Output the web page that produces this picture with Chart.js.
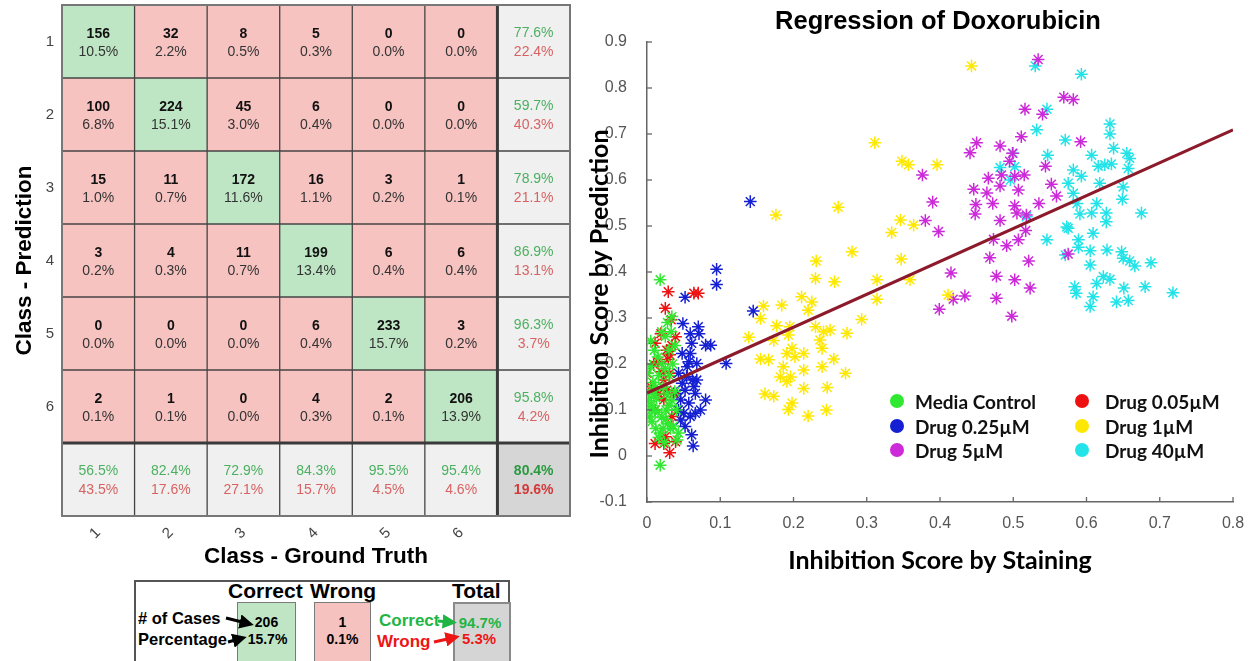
<!DOCTYPE html>
<html>
<head>
<meta charset="utf-8">
<script src="https://cdn.jsdelivr.net/npm/chart.js@4.4.1/dist/chart.umd.min.js"></script>
<style>
  html, body { margin: 0; padding: 0; background: #fff; width: 1255px; height: 661px; overflow: hidden;
    font-family: "Liberation Sans", Arial, sans-serif; }
  #cmWrap { position: absolute; left: 0; top: 0; width: 600px; height: 575px; }
  #scWrap { position: absolute; left: 575px; top: 0; width: 680px; height: 661px; }
  .lg-item { position: absolute; height: 24px; display: flex; align-items: center;
    font-family: Lato, "Open Sans", sans-serif; font-weight: 700; font-size: 19px; color: #111; white-space: nowrap; }
  .lg-dot { width: 14px; height: 14px; border-radius: 50%; flex: none; }
  #key { position: absolute; left: 134px; top: 580px; width: 376px; height: 100px; border: 2px solid #555; box-sizing: border-box; }
  .k { position: absolute; white-space: nowrap; line-height: 1; }
  .kh { font-weight: 700; font-size: 21px; color: #000; }
  .kl { font-weight: 700; font-size: 16.5px; color: #000; }
  .kbox { position: absolute; top: 602px; height: 80px; box-sizing: border-box; }
  .kv { position: absolute; font-weight: 700; font-size: 14px; text-align: center; line-height: 1; }
</style>
</head>
<body>
<div id="cmWrap"><canvas id="matrixChart"></canvas></div>
<div id="scWrap"><canvas id="scatterChart"></canvas><div id="scLegend"></div></div>

<!-- key explaining how to read a cell of the confusion matrix -->
<div id="key"></div>
<div class="kbox" style="left:237px;width:59px;background:#bfe5c5;border:1px solid #7a7a7a;"></div>
<div class="kbox" style="left:314px;width:57px;background:#f6c2bf;border:1px solid #7a7a7a;"></div>
<div class="kbox" style="left:453px;width:58px;background:#d5d5d5;border:2px solid #8a8a8a;"></div>
<div class="k kh" style="left:228px;top:580px;">Correct</div>
<div class="k kh" style="left:310px;top:580px;">Wrong</div>
<div class="k kh" style="left:452px;top:580px;">Total</div>
<div class="k kl" style="left:138px;top:610px;"># of Cases</div>
<div class="k kl" style="left:138px;top:631px;">Percentage</div>
<div class="kv" style="left:246px;width:41px;top:615px;">206</div>
<div class="kv" style="left:246px;width:43px;top:632px;">15.7%</div>
<div class="kv" style="left:314px;width:57px;top:615px;">1</div>
<div class="kv" style="left:314px;width:57px;top:632px;">0.1%</div>
<div class="k" style="left:379px;top:612px;font-weight:700;font-size:17px;color:#1fb544;">Correct</div>
<div class="k" style="left:377px;top:633px;font-weight:700;font-size:17px;color:#ee1515;">Wrong</div>
<div class="kv" style="left:456px;width:48px;top:615px;font-size:15px;color:#1fb544;">94.7%</div>
<div class="kv" style="left:458px;width:42px;top:631px;font-size:15px;color:#ee1515;">5.3%</div>
<svg style="position:absolute;left:0;top:0;width:1255px;height:661px;pointer-events:none;" viewBox="0 0 1255 661">
  <defs>
    <marker id="hk" markerWidth="4.5" markerHeight="4.5" refX="2" refY="2.25" orient="auto"><path d="M0,0 L4.5,2.25 L0,4.5 z" fill="#000"/></marker>
    <marker id="hg" markerWidth="4.5" markerHeight="4.5" refX="2" refY="2.25" orient="auto"><path d="M0,0 L4.5,2.25 L0,4.5 z" fill="#1fb544"/></marker>
    <marker id="hr" markerWidth="4.5" markerHeight="4.5" refX="2" refY="2.25" orient="auto"><path d="M0,0 L4.5,2.25 L0,4.5 z" fill="#ee1515"/></marker>
  </defs>
  <line x1="226" y1="618" x2="246" y2="623" stroke="#000" stroke-width="3.2" marker-end="url(#hk)"/>
  <line x1="228" y1="642" x2="239" y2="639" stroke="#000" stroke-width="3.2" marker-end="url(#hk)"/>
  <line x1="438" y1="621" x2="449" y2="622" stroke="#1fb544" stroke-width="3.2" marker-end="url(#hg)"/>
  <line x1="434" y1="642" x2="452" y2="638" stroke="#ee1515" stroke-width="3.2" marker-end="url(#hr)"/>
</svg>

<script>
// ---------- confusion matrix (rows: predicted class, columns: ground truth) ----------
const classLabels = ['1', '2', '3', '4', '5', '6'];
const confusionCounts = [
  [156,  32,   8,   5,   0,   0],
  [100, 224,  45,   6,   0,   0],
  [ 15,  11, 172,  16,   3,   1],
  [  3,   4,  11, 199,   6,   6],
  [  0,   0,   0,   6, 233,   3],
  [  2,   1,   0,   4,   2, 206]
];

// ---------- regression scatter: [staining score, predicted score] ----------
const mediaControl = [[0.018,0.383],[0.034,0.303],[0.018,-0.020],[0.041,0.035],[0.005,0.250],[0.010,0.230],[0.015,0.215],[0.020,0.200],[0.025,0.190],[0.030,0.175],[0.008,0.160],[0.012,0.150],[0.004,0.140],[0.002,0.120],[0.006,0.110],[0.010,0.100],[0.015,0.095],[0.020,0.085],[0.025,0.080],[0.028,0.070],[0.032,0.060],[0.036,0.065],[0.003,0.085],[0.007,0.075],[0.012,0.060],[0.018,0.050],[0.022,0.060],[0.026,0.100],[0.030,0.110],[0.034,0.120],[0.038,0.140],[0.035,0.200],[0.030,0.230],[0.025,0.260],[0.020,0.270],[0.028,0.290],[0.033,0.270],[0.038,0.240],[0.001,0.180],[0.005,0.195],[0.016,0.175],[0.022,0.150],[0.027,0.135],[0.013,0.125],[0.009,0.135],[0.040,0.100],[0.043,0.050],[0.016,0.040],[0.024,0.030],[0.006,0.100]];
const drug005 = [[0.029,0.357],[0.064,0.354],[0.070,0.354],[0.025,0.321],[0.033,0.296],[0.019,0.266],[0.039,0.259],[0.011,0.245],[0.000,0.180],[0.009,0.199],[0.027,0.230],[0.031,0.220],[0.029,0.210],[0.023,0.165],[0.011,0.100],[0.023,0.122],[0.034,0.086],[0.011,0.027],[0.023,0.027],[0.039,0.031],[0.031,0.007],[0.025,0.042],[0.027,0.143],[0.036,0.136],[0.016,0.136],[0.020,0.183],[0.031,0.180],[0.005,0.151],[0.015,0.205],[0.034,0.240]];
const drug025 = [[0.141,0.553],[0.095,0.406],[0.095,0.373],[0.052,0.345],[0.145,0.315],[0.108,0.201],[0.049,0.288],[0.070,0.281],[0.059,0.266],[0.071,0.266],[0.061,0.245],[0.080,0.241],[0.087,0.241],[0.059,0.223],[0.068,0.201],[0.043,0.180],[0.054,0.173],[0.048,0.158],[0.062,0.165],[0.052,0.143],[0.066,0.136],[0.046,0.122],[0.057,0.115],[0.080,0.122],[0.073,0.100],[0.050,0.093],[0.059,0.086],[0.052,0.064],[0.061,0.046],[0.063,0.022],[0.046,0.078],[0.041,0.136],[0.068,0.165],[0.057,0.205],[0.064,0.151],[0.043,0.100],[0.055,0.194],[0.066,0.093],[0.048,0.223]];
const drug1 = [[0.311,0.681],[0.348,0.641],[0.357,0.633],[0.396,0.633],[0.176,0.524],[0.261,0.541],[0.346,0.513],[0.364,0.502],[0.334,0.486],[0.280,0.444],[0.347,0.428],[0.231,0.424],[0.230,0.386],[0.256,0.379],[0.314,0.383],[0.359,0.383],[0.314,0.341],[0.211,0.346],[0.225,0.335],[0.220,0.317],[0.184,0.328],[0.159,0.326],[0.155,0.299],[0.293,0.297],[0.177,0.283],[0.195,0.281],[0.139,0.258],[0.173,0.251],[0.193,0.263],[0.230,0.281],[0.241,0.270],[0.250,0.274],[0.273,0.267],[0.236,0.252],[0.239,0.234],[0.198,0.234],[0.191,0.223],[0.202,0.216],[0.214,0.223],[0.155,0.211],[0.166,0.209],[0.255,0.211],[0.186,0.194],[0.239,0.194],[0.214,0.187],[0.182,0.172],[0.196,0.172],[0.191,0.162],[0.271,0.180],[0.214,0.147],[0.246,0.149],[0.161,0.135],[0.173,0.130],[0.198,0.115],[0.193,0.101],[0.220,0.087],[0.245,0.100],[0.443,0.848],[0.411,0.350]];
const drug5 = [[0.534,0.862],[0.569,0.780],[0.582,0.775],[0.516,0.754],[0.540,0.743],[0.511,0.694],[0.450,0.681],[0.441,0.659],[0.482,0.674],[0.499,0.658],[0.592,0.683],[0.495,0.641],[0.544,0.630],[0.376,0.611],[0.484,0.611],[0.466,0.604],[0.502,0.608],[0.515,0.611],[0.482,0.587],[0.446,0.580],[0.464,0.572],[0.507,0.578],[0.552,0.591],[0.559,0.565],[0.390,0.552],[0.449,0.547],[0.472,0.549],[0.502,0.544],[0.535,0.549],[0.448,0.526],[0.505,0.528],[0.518,0.524],[0.380,0.512],[0.482,0.512],[0.398,0.488],[0.517,0.490],[0.473,0.471],[0.507,0.470],[0.491,0.457],[0.468,0.431],[0.521,0.424],[0.575,0.439],[0.415,0.398],[0.477,0.391],[0.502,0.383],[0.523,0.365],[0.434,0.348],[0.418,0.341],[0.477,0.343],[0.399,0.319],[0.498,0.304]];
const drug40 = [[0.530,0.848],[0.593,0.830],[0.546,0.754],[0.632,0.722],[0.632,0.700],[0.532,0.709],[0.571,0.687],[0.637,0.669],[0.607,0.654],[0.655,0.658],[0.659,0.647],[0.547,0.654],[0.500,0.658],[0.616,0.630],[0.625,0.633],[0.634,0.635],[0.482,0.627],[0.582,0.622],[0.657,0.625],[0.593,0.608],[0.496,0.600],[0.575,0.593],[0.618,0.593],[0.650,0.585],[0.582,0.571],[0.649,0.558],[0.587,0.549],[0.614,0.549],[0.591,0.526],[0.607,0.528],[0.627,0.528],[0.675,0.528],[0.518,0.520],[0.627,0.509],[0.573,0.498],[0.575,0.495],[0.609,0.484],[0.546,0.470],[0.589,0.470],[0.589,0.454],[0.605,0.446],[0.628,0.448],[0.571,0.437],[0.648,0.444],[0.650,0.430],[0.659,0.424],[0.666,0.413],[0.605,0.415],[0.688,0.420],[0.623,0.390],[0.632,0.384],[0.614,0.375],[0.584,0.368],[0.586,0.354],[0.651,0.365],[0.680,0.368],[0.718,0.355],[0.609,0.346],[0.605,0.325],[0.641,0.335],[0.657,0.338],[0.502,0.629]];

// fitted regression line end points
const fitX = [0, 0.8];
const fitY = [0.137, 0.709];

const groupLabels = ['Media Control', 'Drug 0.05µM', 'Drug 0.25µM', 'Drug 1µM', 'Drug 5µM', 'Drug 40µM'];
const groupColors = ['#2fe82f', '#ee1111', '#1420d2', '#ffe800', '#cc2ad9', '#22e3e8'];
const groupPoints = [mediaControl, drug005, drug025, drug1, drug5, drug40];

const xTickStep = 0.1, yTickStep = 0.1;

// ====================== confusion matrix chart ======================
const nCls = classLabels.length;
const total = confusionCounts.flat().reduce((a, b) => a + b, 0);
const rowSums = confusionCounts.map(r => r.reduce((a, b) => a + b, 0));
const colSums = classLabels.map((_, c) => confusionCounts.reduce((a, r) => a + r[c], 0));
const diagSum = confusionCounts.reduce((a, r, i) => a + r[i], 0);
const pct = v => (v * 100).toFixed(1) + '%';

const CELL_OK = '#bee5c4', CELL_BAD = '#f6c3c0', CELL_STAT = '#f0f0f0', CELL_ALL = '#d6d6d6';
function cellColor(r, c) {
  if (r === nCls && c === nCls) return CELL_ALL;
  if (r === nCls || c === nCls) return CELL_STAT;
  return r === c ? CELL_OK : CELL_BAD;
}

const matrixColumns = [...classLabels, ''];
const matrixRows = [];
for (let r = 0; r <= nCls; r++) {
  matrixRows.push({
    label: 'row ' + r,
    data: matrixColumns.map(() => [r, r + 1]),
    backgroundColor: matrixColumns.map((_, c) => cellColor(r, c)),
    borderWidth: 0,
    grouped: false,
    barPercentage: 1,
    categoryPercentage: 1
  });
}

const matrixOverlay = {
  id: 'matrixOverlay',
  afterDatasetsDraw(chart) {
    const { ctx, scales: { x, y } } = chart;
    const step = x.getPixelForValue(1) - x.getPixelForValue(0);
    const colEdge = k => x.getPixelForValue(0) - step / 2 + k * step;
    const rowEdge = k => y.getPixelForValue(k);
    ctx.save();
    ctx.textAlign = 'center';
    ctx.textBaseline = 'middle';
    const fam = '"Liberation Sans", Arial, sans-serif';
    for (let r = 0; r <= nCls; r++) {
      for (let c = 0; c <= nCls; c++) {
        const cx = x.getPixelForValue(c);
        const cy = y.getPixelForValue(r + 0.5);
        if (r < nCls && c < nCls) {
          const v = confusionCounts[r][c];
          ctx.fillStyle = '#111';
          ctx.font = 'bold 14px ' + fam;
          ctx.fillText(String(v), cx, cy - 7.5);
          ctx.fillStyle = '#333';
          ctx.font = '14px ' + fam;
          ctx.fillText(pct(v / total), cx, cy + 10.5);
        } else {
          let ok;
          if (r === nCls && c === nCls) ok = diagSum / total;
          else if (c === nCls) ok = confusionCounts[r][r] / rowSums[r];
          else ok = confusionCounts[c][c] / colSums[c];
          const strong = r === nCls && c === nCls;
          ctx.font = (strong ? 'bold ' : '') + '14px ' + fam;
          ctx.fillStyle = strong ? '#2a9a40' : '#4cb060';
          ctx.fillText(pct(ok), cx, cy - 8.5);
          ctx.fillStyle = strong ? '#d43a3a' : '#d86262';
          ctx.fillText(pct(1 - ok), cx, cy + 10.5);
        }
      }
    }
    // cell borders
    const left = colEdge(0), right = colEdge(nCls + 1), top = rowEdge(0), bottom = rowEdge(nCls + 1);
    const hline = (yy) => { ctx.beginPath(); ctx.moveTo(left, yy); ctx.lineTo(right, yy); ctx.stroke(); };
    const vline = (xx) => { ctx.beginPath(); ctx.moveTo(xx, top); ctx.lineTo(xx, bottom); ctx.stroke(); };
    ctx.strokeStyle = '#444';
    ctx.lineWidth = 1.3;
    for (let k = 1; k < nCls; k++) {
      hline(rowEdge(k));
      vline(colEdge(k));
    }
    ctx.strokeStyle = '#3a3a3a';
    ctx.lineWidth = 3;
    hline(rowEdge(nCls));
    vline(colEdge(nCls));
    ctx.strokeStyle = '#777';
    ctx.lineWidth = 2;
    ctx.strokeRect(left, top, right - left, bottom - top);
    ctx.restore();
  }
};

new Chart(document.getElementById('matrixChart'), {
  type: 'bar',
  data: { labels: matrixColumns, datasets: matrixRows },
  plugins: [matrixOverlay],
  options: {
    responsive: true,
    maintainAspectRatio: false,
    animation: false,
    events: [],
    layout: { padding: { top: 5, right: 30, left: 0, bottom: 0 } },
    plugins: { legend: { display: false }, tooltip: { enabled: false } },
    scales: {
      x: {
        type: 'category',
        offset: true,
        grid: { display: false, drawTicks: false },
        border: { display: false },
        ticks: { minRotation: 45, maxRotation: 45, padding: 8, color: '#444',
          font: { family: '"Liberation Sans", Arial, sans-serif', size: 15 } },
        title: { display: true, text: 'Class - Ground Truth', color: '#000',
          font: { family: '"Liberation Sans", Arial, sans-serif', size: 22.5, weight: 'bold' },
          padding: { top: 0, bottom: 4.5 } },
        afterFit(s) { s.height = 59; s.paddingLeft = 0; s.paddingRight = 0; }
      },
      y: {
        type: 'linear',
        min: 0,
        max: nCls + 1,
        reverse: true,
        afterBuildTicks(s) { s.ticks = classLabels.map((_, i) => ({ value: i + 0.5 })); },
        grid: { display: false, drawTicks: false },
        border: { display: false },
        ticks: { padding: 8, color: '#444', autoSkip: false,
          font: { family: '"Liberation Sans", Arial, sans-serif', size: 15 },
          callback: v => classLabels[Math.floor(v)] ?? '' },
        title: { display: true, text: 'Class - Prediction', color: '#000',
          font: { family: '"Liberation Sans", Arial, sans-serif', size: 22.5, weight: 'bold' },
          padding: { top: 11, bottom: 0 } },
        afterFit(s) { s.width = 62; s.paddingTop = 0; s.paddingBottom = 0; }
      }
    }
  }
});

// ====================== regression scatter chart ======================
const chartTitle = 'Regression of Doxorubicin';
const yAxisTitle = 'Inhibition Score by Prediction';

const scatterDecor = {
  id: 'scatterDecor',
  afterDraw(chart) {
    const { ctx, chartArea: a, scales: { x, y } } = chart;
    ctx.save();
    // tick marks pointing into the plot
    ctx.strokeStyle = '#666';
    ctx.lineWidth = 1.3;
    x.ticks.forEach(t => {
      const px = x.getPixelForValue(t.value);
      ctx.beginPath(); ctx.moveTo(px, a.bottom); ctx.lineTo(px, a.bottom - 5); ctx.stroke();
    });
    y.ticks.forEach(t => {
      const py = y.getPixelForValue(t.value);
      ctx.beginPath(); ctx.moveTo(a.left, py); ctx.lineTo(a.left + 5, py); ctx.stroke();
    });
    ctx.fillStyle = '#000';
    ctx.textAlign = 'center';
    ctx.textBaseline = 'middle';
    // title centred over the plot area
    ctx.font = 'bold 25.5px "Liberation Sans", Arial, sans-serif';
    ctx.fillText(chartTitle, (a.left + a.right) / 2 - 2, 22);
    // vertical axis title, drawn a little below the axis centre
    ctx.translate(25, (a.top + a.bottom) / 2 + 22);
    ctx.rotate(-Math.PI / 2);
    ctx.font = 'bold 25px Lato, "Open Sans", sans-serif';
    ctx.fillText(yAxisTitle, 0, 0);
    ctx.restore();
  }
};

const scatterSets = groupPoints.map((pts, i) => ({
  label: groupLabels[i],
  data: pts.map(([x, y]) => ({ x, y })),
  pointStyle: 'star',
  pointRadius: 6.3,
  pointBorderWidth: 1.5,
  borderColor: groupColors[i],
  backgroundColor: groupColors[i],
  order: 1
}));

const fitSet = {
  type: 'line',
  label: 'Linear fit',
  data: fitX.map((x, i) => ({ x, y: fitY[i] })),
  borderColor: '#8c1a2b',
  borderWidth: 3.2,
  pointRadius: 0,
  fill: false,
  order: 0
};

const scatterChart = new Chart(document.getElementById('scatterChart'), {
  type: 'scatter',
  data: { datasets: [fitSet, ...scatterSets] },
  plugins: [scatterDecor],
  options: {
    responsive: true,
    maintainAspectRatio: false,
    animation: false,
    events: [],
    layout: { padding: { top: 42, right: 22, left: 0, bottom: 76 } },
    plugins: {
      legend: { display: false },
      tooltip: { enabled: false },
      title: { display: false }
    },
    scales: {
      x: {
        type: 'linear', min: 0, max: 0.8,
        grid: { display: false, drawTicks: false },
        border: { display: true, color: '#666', width: 1.5 },
        ticks: { stepSize: xTickStep, padding: 12, color: '#555',
          font: { family: '"Liberation Sans", Arial, sans-serif', size: 16 },
          callback: v => String(Math.round(v * 10) / 10) },
        title: { display: true, text: 'Inhibition Score by Staining', color: '#000',
          font: { family: 'Lato, "Open Sans", sans-serif', size: 25, weight: 'bold' },
          padding: { top: 0, bottom: 9 } },
        afterFit(s) { s.height = 83; s.paddingLeft = 0; s.paddingRight = 0; }
      },
      y: {
        type: 'linear', min: -0.1, max: 0.9,
        grid: { display: false, drawTicks: false },
        border: { display: true, color: '#666', width: 1.5 },
        ticks: { stepSize: yTickStep, padding: 20, color: '#555',
          font: { family: '"Liberation Sans", Arial, sans-serif', size: 16 },
          callback: v => String(Math.round(v * 10) / 10) },
        afterFit(s) { s.width = 72; s.paddingTop = 0; s.paddingBottom = 0; }
      }
    }
  }
});

// legend inside the plot, two columns, built from the scatter datasets
(function buildLegend() {
  const host = document.getElementById('scLegend');
  const colDot = [315, 500], colGap = [11, 16], rowTop = [389, 414, 438];
  scatterChart.data.datasets.filter(d => d.type !== 'line').forEach((d, i) => {
    const item = document.createElement('div');
    item.className = 'lg-item';
    item.style.left = colDot[i % 2] + 'px';
    item.style.top = rowTop[Math.floor(i / 2)] + 'px';
    const dot = document.createElement('span');
    dot.className = 'lg-dot';
    dot.style.background = d.borderColor;
    dot.style.marginRight = colGap[i % 2] + 'px';
    const txt = document.createElement('span');
    txt.textContent = d.label;
    item.appendChild(dot);
    item.appendChild(txt);
    host.appendChild(item);
  });
})();
</script>
</body>
</html>
